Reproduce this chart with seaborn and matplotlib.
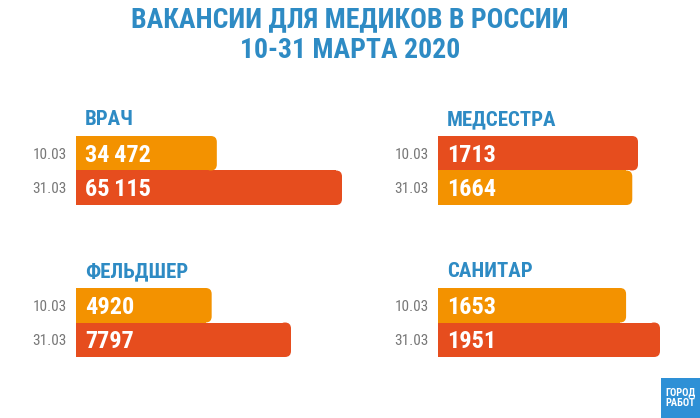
import matplotlib
matplotlib.use("Agg")
import matplotlib.pyplot as plt
import seaborn as sns
import pandas as pd
from matplotlib.patches import FancyBboxPatch, Rectangle

# ---- data ----
title_lines = ["ВАКАНСИИ ДЛЯ МЕДИКОВ В РОССИИ", "10-31 МАРТА 2020"]
dates = ["10.03", "31.03"]
professions = ["ВРАЧ", "МЕДСЕСТРА", "ФЕЛЬДШЕР", "САНИТАР"]
vrach = [34472, 65115]
medsestra = [1713, 1664]
feldsher = [4920, 7797]
sanitar = [1653, 1951]
logo_lines = ["ГОРОД", "РАБОТ"]

sns.set_theme(style="white")
plt.rcParams['font.family'] = ['Roboto Condensed', 'DejaVu Sans']

W, H = 700, 418
fig = plt.figure(figsize=(7, 4.18), dpi=100)
fig.patch.set_facecolor("white")

RED = "#E64D1E"
ORANGE = "#F39200"
BLUE = "#2E8BC4"
GRAY = "#787878"
PT = 0.72  # points per pixel at dpi 100


def rect(l, t, r, b):
    return [l / W, 1 - b / H, (r - l) / W, (b - t) / H]


def fy(y):
    return 1 - y / H


def fmt(v):
    return f"{v:,}".replace(",", "\u2009") if v >= 10000 else str(v)


panels = [
    (professions[0], vrach, (76, 136, 342, 205), 125),
    (professions[1], medsestra, (438, 136, 638, 205), 125),
    (professions[2], feldsher, (76, 288, 291, 357), 277),
    (professions[3], sanitar, (438, 288, 660, 357), 277),
]

for name, vals, (l, t, r, b), title_base in panels:
    ax = fig.add_axes(rect(l, t, r, b))
    df = pd.DataFrame({"date": dates, "value": vals})
    vmax = max(vals)
    colors = [RED if v == vmax else ORANGE for v in vals]
    sns.barplot(data=df, x="value", y="date", hue="date", palette=colors,
                width=1.0, legend=False, ax=ax, saturation=1, linewidth=0,
                orient="h")
    ax.set_xlim(0, vmax)
    ax.set_ylim(1.5, -0.5)
    ax.set_xticks([])
    ax.set_xlabel("")
    ax.set_ylabel("")
    ax.set_facecolor("none")
    sns.despine(ax=ax, left=True, bottom=True)
    ax.tick_params(axis="y", length=0, pad=9 * PT, labelcolor=GRAY,
                   labelsize=11)

    # rounded right ends
    xupp = vmax / (r - l)
    yupp = 2.0 / (b - t)
    rad_px = 6
    rx = rad_px * xupp
    for p in list(ax.patches):
        x0, w = p.get_x(), p.get_width()
        y0, h = p.get_y(), p.get_height()
        fc = p.get_facecolor()
        p.set_width(w - rx)
        ax.add_patch(FancyBboxPatch((x0 + w - 2 * rx, y0), 2 * rx, h,
                                    boxstyle=f"round,pad=0,rounding_size={rx}",
                                    mutation_aspect=yupp / xupp,
                                    fc=fc, ec="none", lw=0))

    # value labels
    for i, v in enumerate(vals):
        ax.annotate(fmt(v), xy=(0, i), xycoords=("axes fraction", "data"),
                    xytext=(9 * PT, -8.5 * PT), textcoords="offset points",
                    ha="left", va="baseline", color="white",
                    fontsize=17.5, fontweight="bold")

    # category title
    fig.text((l + 9) / W, fy(title_base), name, ha="left", va="baseline",
             color=BLUE, fontsize=15, fontweight="bold")

# main title
fig.text(0.5, fy(27), title_lines[0], ha="center", va="baseline",
         color=BLUE, fontsize=20, fontweight="bold")
fig.text(0.5, fy(58), title_lines[1], ha="center", va="baseline",
         color=BLUE, fontsize=20, fontweight="bold")

# logo
fig.patches.append(Rectangle((661 / W, 0), 39 / W, 40 / H,
                             transform=fig.transFigure, fc="#2E90D6",
                             ec="none", zorder=5))
fig.text(680.5 / W, fy(398), "\n".join(logo_lines), ha="center", va="center",
         color="white", fontsize=7.5, fontweight="bold", linespacing=1.1,
         zorder=6, fontstretch="condensed")

fig.savefig("out.png", dpi=100, facecolor="white")
